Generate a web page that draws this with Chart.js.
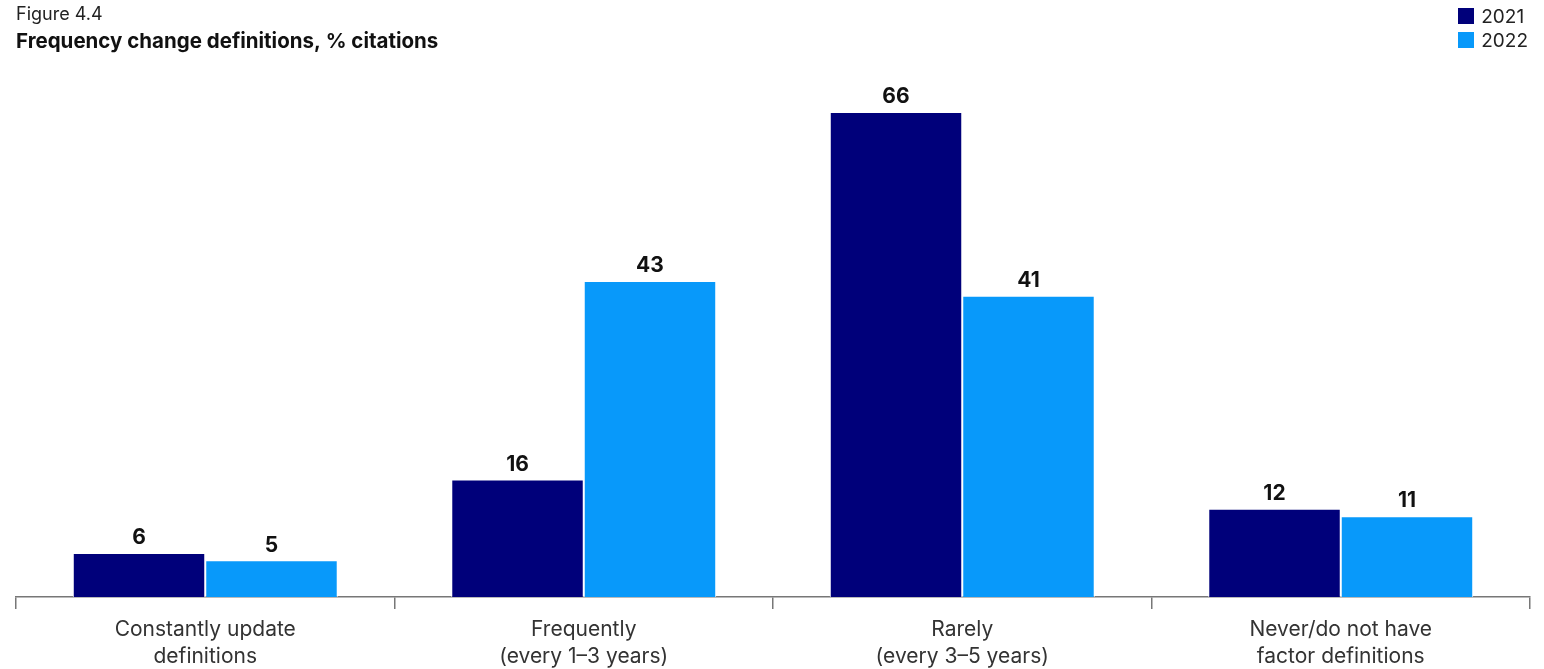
<!DOCTYPE html>
<html>
<head>
<meta charset="utf-8">
<script src="https://cdn.jsdelivr.net/npm/chart.js@4"></script>
<style>
  html, body { margin: 0; padding: 0; background: #fff; }
  .wrap { position: relative; width: 1544px; height: 669px; }
  .legend { position: absolute; right: 16px; top: 4px; font-family: Inter, "Noto Sans", sans-serif; font-size: 19px; color: #222; }
  .legend div { display: flex; align-items: center; height: 24px; }
  .legend span.sw { display: inline-block; width: 16px; height: 16px; margin-right: 7px; }
</style>
</head>
<body>
<div class="wrap">
  <canvas id="barChart" width="1544" height="669"></canvas>
  <div class="legend" id="legend"></div>
</div>
<script>
  var categories = [
    ["Constantly update", "definitions"],
    ["Frequently", "(every 1\u20133 years)"],
    ["Rarely", "(every 3\u20135 years)"],
    ["Never/do not have", "factor definitions"]
  ];
  var seriesNames = ["2021", "2022"];
  var values2021 = [6, 16, 66, 12];
  var values2022 = [5, 43, 41, 11];
  var seriesColors = ["#00007a", "#0899fa"];

  // legend (top right, stacked)
  var legendEl = document.getElementById("legend");
  seriesNames.forEach(function (name, i) {
    var row = document.createElement("div");
    row.innerHTML = '<span class="sw" style="background:' + seriesColors[i] + '"></span>' + name;
    legendEl.appendChild(row);
  });

  var valueLabels = {
    id: "valueLabels",
    afterDatasetsDraw: function (chart) {
      var ctx = chart.ctx;
      ctx.save();
      ctx.font = "bold 21px Inter, 'Noto Sans', sans-serif";
      ctx.fillStyle = "#111";
      ctx.textAlign = "center";
      ctx.textBaseline = "middle";
      chart.data.datasets.forEach(function (ds, i) {
        chart.getDatasetMeta(i).data.forEach(function (bar, j) {
          ctx.fillText(ds.data[j], bar.x, bar.y - 15);
        });
      });
      ctx.restore();
    }
  };

  var ctx = document.getElementById("barChart").getContext("2d");
  var myChartbar = new Chart(ctx, {
    type: "bar",
    data: {
      labels: categories,
      datasets: [
        {
          label: seriesNames[0],
          data: values2021,
          backgroundColor: seriesColors[0],
          borderColor: "#ffffff",
          borderWidth: 1,
          barPercentage: 1,
          categoryPercentage: 0.7
        },
        {
          label: seriesNames[1],
          data: values2022,
          backgroundColor: seriesColors[1],
          borderColor: "#ffffff",
          borderWidth: 1,
          barPercentage: 1,
          categoryPercentage: 0.7
        }
      ]
    },
    options: {
      responsive: false,
      animation: false,
      layout: { padding: { left: 16, right: 14, top: 0, bottom: 0 } },
      plugins: {
        legend: { display: false },
        tooltip: { enabled: false },
        title: {
          display: true,
          text: "Figure 4.4",
          align: "start",
          color: "#222",
          font: { family: "Inter, 'Noto Sans', sans-serif", size: 18, weight: "normal", lineHeight: 1.2 },
          padding: { top: 4, bottom: 2 }
        },
        subtitle: {
          display: true,
          text: "Frequency change definitions, % citations",
          align: "start",
          color: "#111",
          font: { family: "Inter, 'Noto Sans', sans-serif", size: 20.5, weight: "bold", lineHeight: 1.2 },
          padding: { top: 2, bottom: 10 }
        }
      },
      scales: {
        y: {
          display: false,
          beginAtZero: true,
          max: 72.5
        },
        x: {
          offset: true,
          afterFit: function (scale) { scale.height = 72; },
          border: { display: true, color: "#777", width: 1.5 },
          grid: {
            display: true,
            offset: true,
            drawOnChartArea: false,
            drawTicks: true,
            tickLength: 12,
            color: "#777",
            lineWidth: 1.5
          },
          ticks: {
            color: "#333",
            padding: 8,
            font: { family: "Inter, 'Noto Sans', sans-serif", size: 21, lineHeight: 1.25 }
          }
        }
      }
    },
    plugins: [valueLabels]
  });
</script>
</body>
</html>
